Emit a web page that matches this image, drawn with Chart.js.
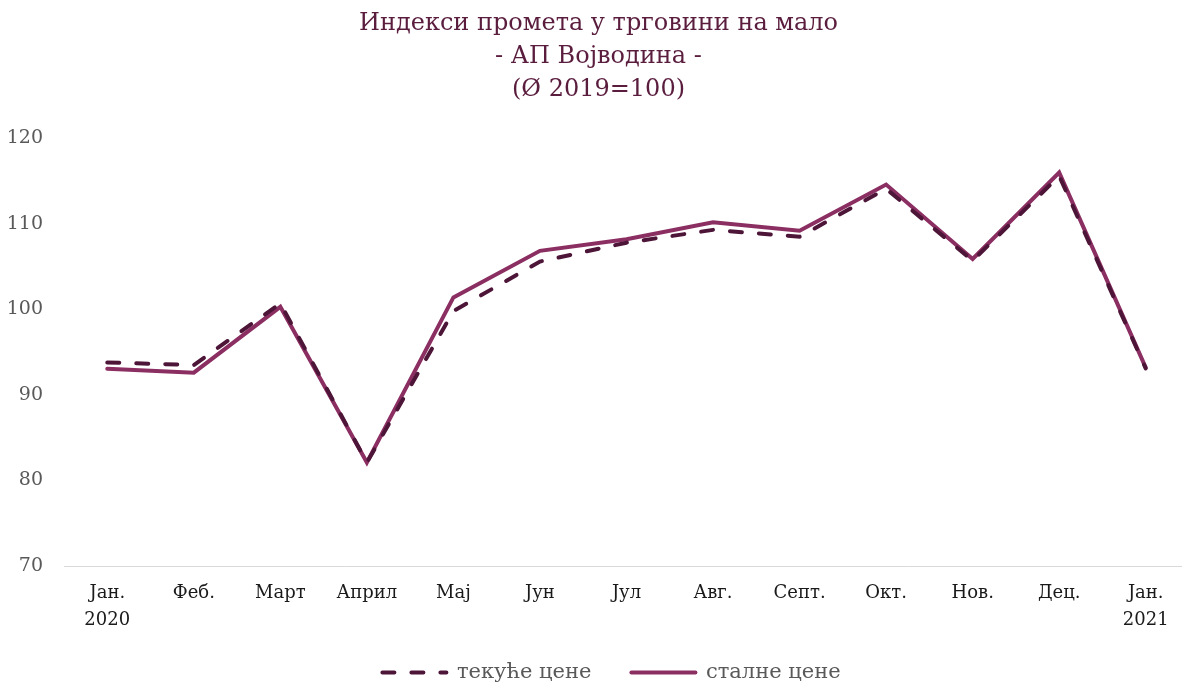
<!DOCTYPE html>
<html>
<head>
<meta charset="utf-8">
<script src="https://cdn.jsdelivr.net/npm/chart.js@4.4.1/dist/chart.umd.min.js"></script>
<style>
  html, body { margin: 0; padding: 0; background: #ffffff; overflow: hidden; }
  #wrap { width: 1182px; height: 684px; overflow: hidden; }
</style>
</head>
<body>
<div id="wrap"><canvas id="myChart" width="1210" height="684"></canvas></div>
<script>
// Podaci za grafik
const months = [
  ["Јан.", "2020"], "Феб.", "Март", "Април", "Мај", "Јун", "Јул",
  "Авг.", "Септ.", "Окт.", "Нов.", "Дец.", ["Јан.", "2021"]
];
const currentPrices = [93.8, 93.5, 100.7, 82.1, 99.8, 105.6, 107.8, 109.3, 108.5, 114.1, 105.7, 115.6, 93.1];
const constantPrices = [93.05, 92.6, 100.3, 82.1, 101.4, 106.85, 108.2, 110.2, 109.2, 114.6, 105.9, 116.0, 93.2];
const yTicks = [70, 80, 90, 100, 110, 120];

const titleLines = ["Индекси промета у трговини на мало", "- АП Војводина -", "(Ø 2019=100)"];

const serif = "'DejaVu Serif', serif";

// Legenda sa isprekidanom linijom (Chart.js ne prenosi borderDash kad je usePointStyle)
function legendLabels(chart) {
  return chart.data.datasets.map((ds, i) => ({
    text: ds.label,
    fillStyle: ds.borderColor,
    strokeStyle: ds.borderColor,
    lineWidth: ds.borderWidth,
    lineDash: ds.borderDash || [],
    lineCap: "round",
    pointStyle: "line",
    fontColor: "#595959",
    hidden: false,
    datasetIndex: i,
  }));
}

// Legenda: manja visina u rasporedu (razmak 40 ostaje izmedju stavki), pa se crta pri dnu
const legendPlace = {
  id: "legendPlace",
  beforeLayout(chart) {
    const legend = chart.legend;
    if (legend && !legend._origFit) {
      legend._origFit = legend.fit;
      legend.fit = function () {
        this._origFit();
        this.height = 36;
      };
    }
  },
  afterLayout(chart) {
    const legend = chart.legend;
    legend.top = 622;
    legend.bottom = chart.height;
    legend.height = legend.bottom - legend.top;
    legend.left += 13;
    legend.right += 13;
  },
};

const ctx = document.getElementById("myChart").getContext("2d");
const myChart = new Chart(ctx, {
  type: "line",
  data: {
    labels: months,
    datasets: [
      {
        label: "текуће цене",
        data: currentPrices,
        borderColor: "#4d1538",
        backgroundColor: "#4d1538",
        borderWidth: 4,
        borderDash: [12, 17],
        borderCapStyle: "round",
        pointRadius: 0,
        tension: 0,
      },
      {
        label: "сталне цене",
        data: constantPrices,
        borderColor: "#8b2e62",
        backgroundColor: "#8b2e62",
        borderWidth: 4,
        borderCapStyle: "round",
        pointRadius: 0,
        tension: 0,
      },
    ],
  },
  plugins: [legendPlace],
  options: {
    responsive: false,
    animation: false,
    layout: { padding: { left: 8, right: 21, top: 7, bottom: 0 } },
    plugins: {
      title: {
        display: true,
        text: titleLines,
        color: "#5a1d3e",
        font: { family: serif, size: 24, weight: "normal", lineHeight: 1.38 },
        padding: { top: 0, bottom: 32 },
      },
      legend: {
        position: "bottom",
        labels: {
          usePointStyle: true,
          pointStyle: "line",
          pointStyleWidth: 64,
          boxWidth: 64,
          boxHeight: 4,
          color: "#595959",
          font: { family: serif, size: 21 },
          padding: 40,
          generateLabels: legendLabels,
        },
      },
      tooltip: { enabled: false },
    },
    scales: {
      x: {
        offset: true,
        grid: { display: false, drawTicks: false },
        border: { display: true, color: "#d9d9d9", width: 1 },
        ticks: {
          color: "#1a1a1a",
          font: { family: serif, size: 18, lineHeight: 1.5 },
          padding: 14,
          maxRotation: 0,
          autoSkip: false,
        },
      },
      y: {
        min: 70,
        max: 120,
        afterBuildTicks: (axis) => {
          axis.ticks = yTicks.map((v) => ({ value: v }));
        },
        afterFit: (axis) => {
          axis.width = 56;
        },
        grid: { display: false, drawTicks: false },
        border: { display: false },
        ticks: {
          color: "#595959",
          font: { family: serif, size: 19 },
          padding: 21,
        },
      },
    },
  },
});
</script>
</body>
</html>
